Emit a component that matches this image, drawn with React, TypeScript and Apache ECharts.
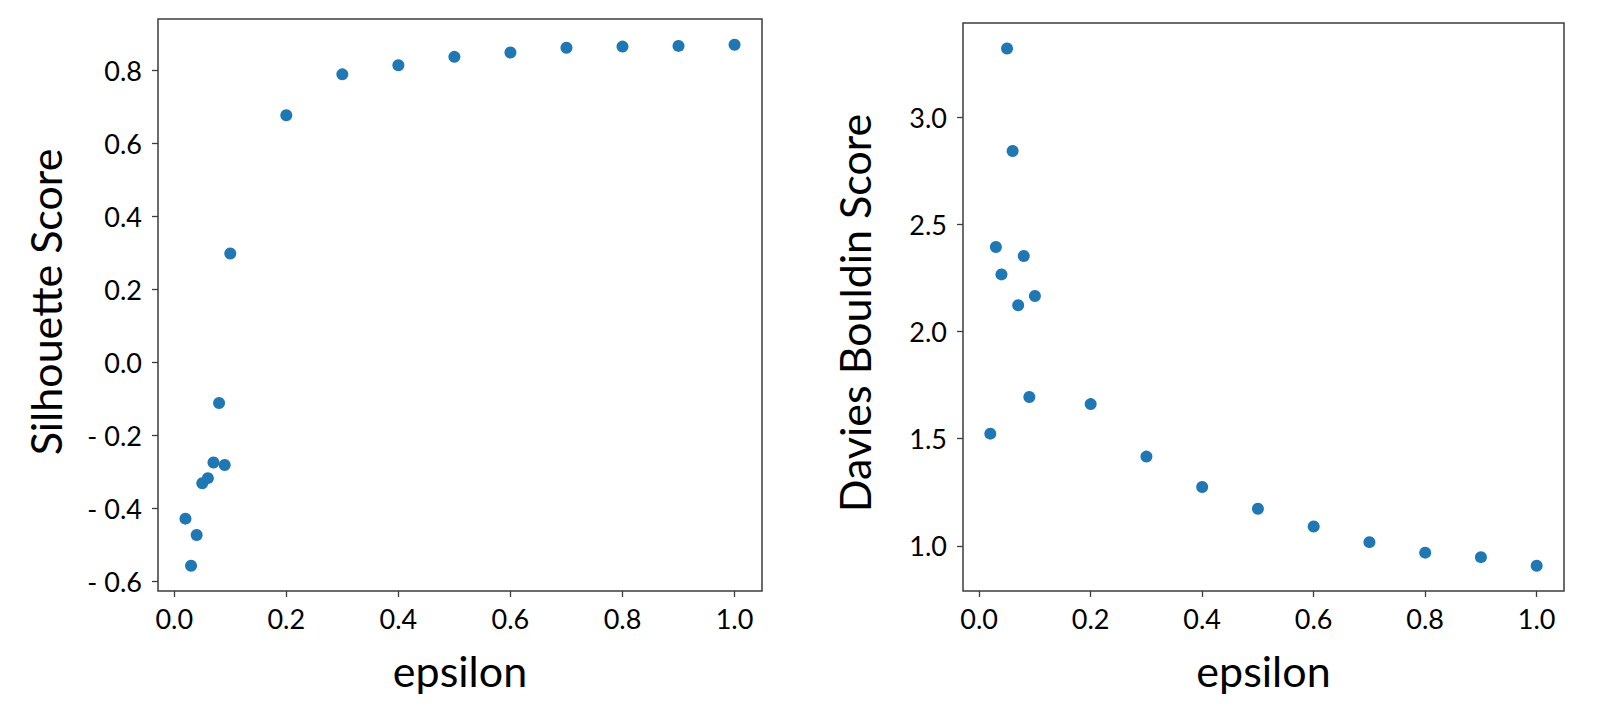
import React, { useEffect, useRef } from "react";
import * as echarts from "echarts";

const epsilon = [0.02, 0.03, 0.04, 0.05, 0.06, 0.07, 0.08, 0.09, 0.1, 0.2, 0.3, 0.4, 0.5, 0.6, 0.7, 0.8, 0.9, 1.0];
const silhouette = [-0.429, -0.558, -0.474, -0.332, -0.318, -0.275, -0.112, -0.282, 0.298, 0.677, 0.789, 0.814, 0.837, 0.849, 0.862, 0.865, 0.867, 0.870];
const daviesBouldin = [1.523, 2.394, 2.266, 3.320, 2.842, 2.122, 2.352, 1.694, 2.165, 1.661, 1.416, 1.274, 1.173, 1.090, 1.017, 0.968, 0.947, 0.907];

const xTicks = [0, 0.2, 0.4, 0.6, 0.8, 1.0];
const silTicks = [-0.6, -0.4, -0.2, 0, 0.2, 0.4, 0.6, 0.8];
const dbTicks = [1.0, 1.5, 2.0, 2.5, 3.0];

const FONT = "Lato";
const TICK_SIZE = 27;
const TITLE_SIZE = 43;
const FRAME = "#3c3c3c";
const DOT = "#1f77b4";
const TEXT = "#000";

function fmt(v: number): string {
  const s = Math.abs(v).toFixed(1);
  return v < -1e-9 ? "- " + s : s;
}

export default function App() {
  const ref = useRef<HTMLDivElement>(null);
  useEffect(() => {
    if (!ref.current) return;
    const chart = echarts.init(ref.current, undefined, { renderer: "svg" });
    const xAxisBase = (gridIndex: number) => ({
      type: "value" as const,
      gridIndex,
      min: -0.029,
      max: 1.049,
      splitLine: { show: false },
      axisLine: { show: false, onZero: false },
      axisTick: { show: true, customValues: xTicks, length: 6, lineStyle: { color: FRAME, width: 1.3 } },
      axisLabel: { customValues: xTicks, formatter: fmt, color: TEXT, fontFamily: FONT, fontSize: TICK_SIZE, margin: 14 },
      name: "epsilon",
      nameLocation: "middle" as const,
      nameGap: 58,
      nameTextStyle: { fontFamily: FONT, fontSize: TITLE_SIZE, color: TEXT },
    });
    const yAxisBase = (gridIndex: number, min: number, max: number, ticks: number[], name: string, gap: number, pad: number[]) => ({
      type: "value" as const,
      gridIndex,
      min,
      max,
      splitLine: { show: false },
      axisLine: { show: false, onZero: false },
      axisTick: { show: true, customValues: ticks, length: 6, lineStyle: { color: FRAME, width: 1.3 } },
      axisLabel: { customValues: ticks, formatter: fmt, color: TEXT, fontFamily: FONT, fontSize: TICK_SIZE, margin: 16 },
      name,
      nameLocation: "middle" as const,
      nameRotate: 90,
      nameGap: gap,
      nameTextStyle: { fontFamily: FONT, fontSize: TITLE_SIZE, color: TEXT, padding: pad },
    });
    chart.setOption({
      animation: false,
      backgroundColor: "#ffffff",
      grid: [
        { left: 158, top: 19, width: 604, height: 572, show: true, borderColor: FRAME, borderWidth: 1.5, backgroundColor: "transparent", containLabel: false },
        { left: 963, top: 23, width: 601, height: 568, show: true, borderColor: FRAME, borderWidth: 1.5, backgroundColor: "transparent", containLabel: false },
      ],
      xAxis: [xAxisBase(0), xAxisBase(1)],
      yAxis: [
        yAxisBase(0, -0.6274, 0.9407, silTicks, "Silhouette Score", 91, [0, 0, 0, 6]),
        yAxisBase(1, 0.789, 3.439, dbTicks, "Davies Bouldin Score", 87, [0, 12, 0, 0]),
      ],
      series: [
        {
          type: "scatter",
          xAxisIndex: 0,
          yAxisIndex: 0,
          symbolSize: 12,
          itemStyle: { color: DOT, opacity: 1 },
          data: epsilon.map((e, i) => [e, silhouette[i]]),
        },
        {
          type: "scatter",
          xAxisIndex: 1,
          yAxisIndex: 1,
          symbolSize: 12,
          itemStyle: { color: DOT, opacity: 1 },
          data: epsilon.map((e, i) => [e, daviesBouldin[i]]),
        },
      ],
    });
    return () => chart.dispose();
  }, []);
  return (
    <div
      ref={ref}
      style={{ position: "fixed", left: 0, top: 0, width: 1620, height: 726, background: "#fff" }}
    />
  );
}
